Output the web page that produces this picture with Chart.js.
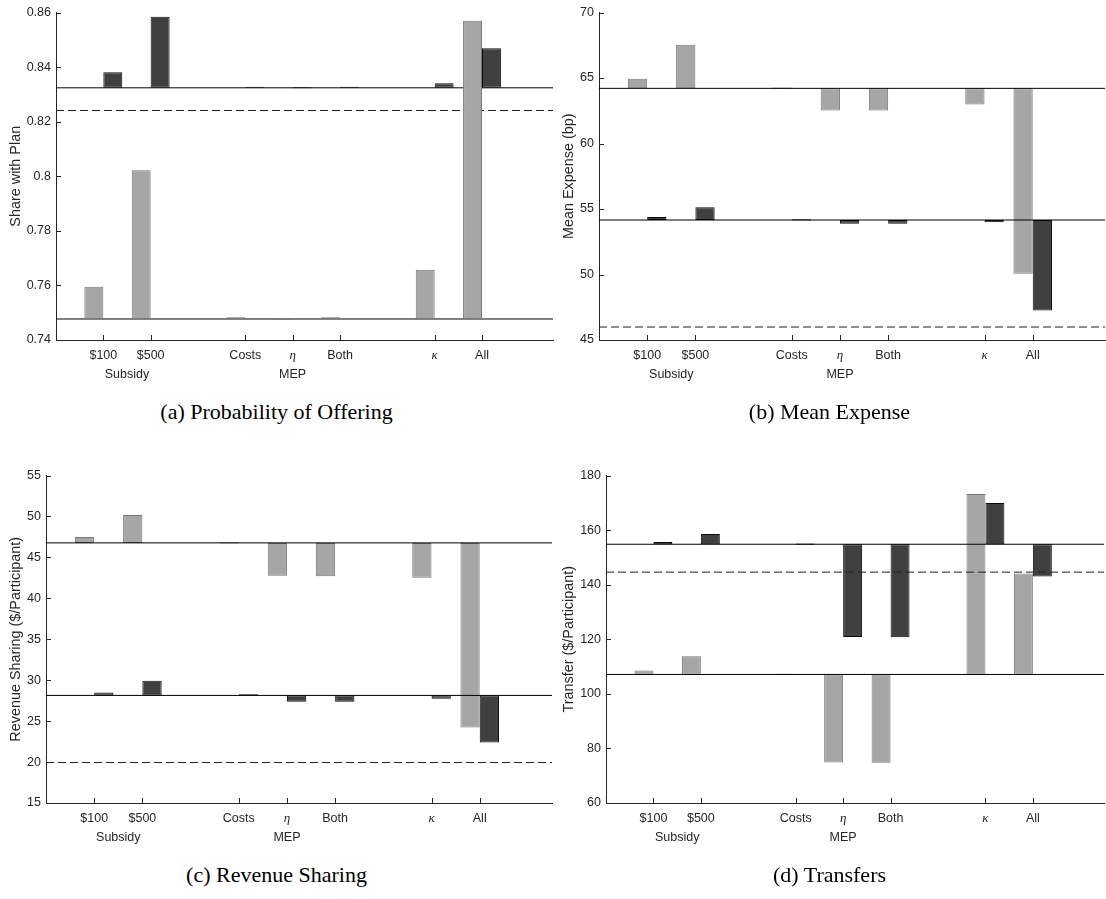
<!DOCTYPE html>
<html><head><meta charset="utf-8">
<script src="https://cdn.jsdelivr.net/npm/chart.js@4/dist/chart.umd.min.js"></script>
<style>
html,body{margin:0;padding:0;background:#fff}
body{width:1106px;height:899px;position:relative;overflow:hidden}
canvas{position:absolute}
.cap{position:absolute;font-family:'Liberation Serif','Times New Roman',serif;font-size:22px;line-height:22px;color:#000;text-align:center;white-space:nowrap;width:553px}
</style></head><body>
<canvas id="ca" width="556" height="390" style="left:0;top:0"></canvas>
<canvas id="cb" width="553" height="390" style="left:553px;top:0"></canvas>
<canvas id="cc" width="556" height="390" style="left:0;top:463px"></canvas>
<canvas id="cd" width="553" height="390" style="left:553px;top:463px"></canvas>
<div class="cap" style="left:0;top:401px">(a) Probability of Offering</div>
<div class="cap" style="left:553px;top:401px">(b) Mean Expense</div>
<div class="cap" style="left:0;top:864px">(c) Revenue Sharing</div>
<div class="cap" style="left:553px;top:864px">(d) Transfers</div>
<script>
// ---- categories / positions ----
const categories = ['$100', '$500', 'Costs', 'η', 'Both', 'κ', 'All'];
const positions = [1, 2, 4, 5, 6, 8, 9];
const groupLabels = ['Subsidy', 'MEP'];
const groupPositions = [1.5, 5];
const xMin = 0, xMax = 10.5;

// ---- (a) Probability of Offering ----
const offerLight = [0.7595, 0.8022, 0.7483, 0.7474, 0.7483, 0.7657, 0.8570];
const offerDark  = [0.8381, 0.8584, 0.8326, 0.8322, 0.8326, 0.8341, 0.8469];
const offerBaseLight = 0.7477, offerBaseDark = 0.8324, offerRef = 0.8241;
const offerTicks = [0.74, 0.76, 0.78, 0.80, 0.82, 0.84, 0.86];

// ---- (b) Mean Expense ----
const expLight = [64.95, 67.54, 64.18, 62.51, 62.51, 62.97, 50.05];
const expDark  = [54.39, 55.13, 54.12, 53.88, 53.88, 53.98, 47.26];
const expBaseLight = 64.21, expBaseDark = 54.16, expRef = 45.99;
const expTicks = [45, 50, 55, 60, 65, 70];

// ---- (c) Revenue Sharing ----
const revLight = [47.49, 50.17, 46.70, 42.75, 42.68, 42.51, 24.21];
const revDark  = [28.51, 29.93, 28.16, 27.37, 27.37, 27.74, 22.38];
const revBaseLight = 46.77, revBaseDark = 28.14, revRef = 19.95;
const revTicks = [15, 20, 25, 30, 35, 40, 45, 50, 55];

// ---- (d) Transfers ----
const trLight = [108.56, 113.8, 106.9, 74.85, 74.73, 173.18, 144.1];
const trDark  = [155.66, 158.58, 154.6, 120.85, 120.73, 169.9, 143.0];
const trBaseLight = 107.1, trBaseDark = 154.81, trRef = 144.59;
const trTicks = [60, 80, 100, 120, 140, 160, 180];

const AX = '#262626';
const SANS = "'Liberation Sans', Arial, sans-serif";

const decorPlugin = {
  id: 'decor',
  afterDraw(chart) {
    const {ctx, chartArea, scales: {x, y}} = chart;
    ctx.save();
    ctx.strokeStyle = AX;
    ctx.lineWidth = 1;
    ctx.beginPath();
    x.ticks.forEach(t => {
      const px = Math.round(x.getPixelForValue(t.value)) + 0.5;
      ctx.moveTo(px, chartArea.bottom);
      ctx.lineTo(px, chartArea.bottom - 5);
    });
    y.ticks.forEach(t => {
      const py = Math.round(y.getPixelForValue(t.value)) + 0.5;
      ctx.moveTo(chartArea.left, py);
      ctx.lineTo(chartArea.left + 5, py);
    });
    ctx.stroke();
    ctx.font = '12.5px ' + SANS;
    ctx.fillStyle = AX;
    ctx.textAlign = 'center';
    ctx.textBaseline = 'middle';
    groupLabels.forEach((g, i) => ctx.fillText(g, x.getPixelForValue(groupPositions[i]), chartArea.bottom + 34.5));
    ctx.restore();
  }
};

function makeChart(id, o) {
  const lineOrder = o.linesOnTop ? 0 : 2;
  const hline = (yv, dash, color) => ({
    type: 'line',
    data: [{x: xMin, y: yv}, {x: xMax, y: yv}],
    borderColor: color, borderWidth: 1, borderDash: dash, pointRadius: 0, order: lineOrder, fill: false
  });
  new Chart(document.getElementById(id), {
    type: 'bar',
    data: {
      datasets: [
        {type: 'bar', data: positions.map((p, i) => ({x: p, y: [o.baseLight, o.light[i]]})),
         backgroundColor: '#a6a6a6', borderColor: '#787878', borderWidth: 1, borderSkipped: false,
         categoryPercentage: 0.8, barPercentage: 1, minBarLength: 1.2, order: 1},
        {type: 'bar', data: positions.map((p, i) => ({x: p, y: [o.baseDark, o.dark[i]]})),
         backgroundColor: '#404040', borderColor: '#0d0d0d', borderWidth: 1, borderSkipped: false,
         categoryPercentage: 0.8, barPercentage: 1, minBarLength: 1.2, order: 1},
        hline(o.baseLight, [], '#000'),
        hline(o.baseDark, [], '#000'),
        hline(o.ref, [8, 4], '#222')
      ]
    },
    options: {
      responsive: false, animation: false, devicePixelRatio: 1,
      layout: {padding: {top: 12, right: o.padRight, left: 0, bottom: 0}},
      plugins: {legend: {display: false}, tooltip: {enabled: false}},
      scales: {
        x: {
          type: 'linear', min: xMin, max: xMax, offset: false,
          afterBuildTicks: s => { s.ticks = positions.map(v => ({value: v})); },
          afterFit: s => { s.height = 50; },
          ticks: {
            callback: (v, i) => categories[i],
            color: AX, padding: 8, maxRotation: 0, autoSkip: false,
            font: c => (categories[c.index] === 'η' || categories[c.index] === 'κ')
              ? {family: "'Liberation Serif', serif", style: 'italic', size: 13}
              : {family: SANS, size: 12.5}
          },
          grid: {display: false, drawOnChartArea: false, drawTicks: false, tickLength: 0, offset: false},
          border: {display: true, color: AX, width: 1}
        },
        y: {
          type: 'linear', min: o.ticks[0], max: o.ticks[o.ticks.length - 1],
          afterBuildTicks: s => { s.ticks = o.ticks.map(v => ({value: v})); },
          afterFit: s => { s.width = o.yWidth; },
          ticks: {
            callback: v => String(+v.toFixed(2)),
            color: AX, padding: 5, font: {family: SANS, size: 12.5}
          },
          grid: {display: false, drawOnChartArea: false, drawTicks: false, tickLength: 0},
          border: {display: true, color: AX, width: 1},
          title: {display: true, text: o.title, color: AX, font: {family: SANS, size: 14.4}, padding: {top: 7, bottom: 0}}
        }
      }
    },
    plugins: [decorPlugin]
  });
}

makeChart('ca', {light: offerLight, dark: offerDark, baseLight: offerBaseLight, baseDark: offerBaseDark, ref: offerRef,
  ticks: offerTicks, title: 'Share with Plan', yWidth: 56, padRight: 3, linesOnTop: false});
makeChart('cb', {light: expLight, dark: expDark, baseLight: expBaseLight, baseDark: expBaseDark, ref: expRef,
  ticks: expTicks, title: 'Mean Expense (bp)', yWidth: 46, padRight: 1, linesOnTop: true});
makeChart('cc', {light: revLight, dark: revDark, baseLight: revBaseLight, baseDark: revBaseDark, ref: revRef,
  ticks: revTicks, title: 'Revenue Sharing ($/Participant)', yWidth: 46, padRight: 4, linesOnTop: true});
makeChart('cd', {light: trLight, dark: trDark, baseLight: trBaseLight, baseDark: trBaseDark, ref: trRef,
  ticks: trTicks, title: 'Transfer ($/Participant)', yWidth: 53, padRight: 2, linesOnTop: true});
</script>
</body></html>
